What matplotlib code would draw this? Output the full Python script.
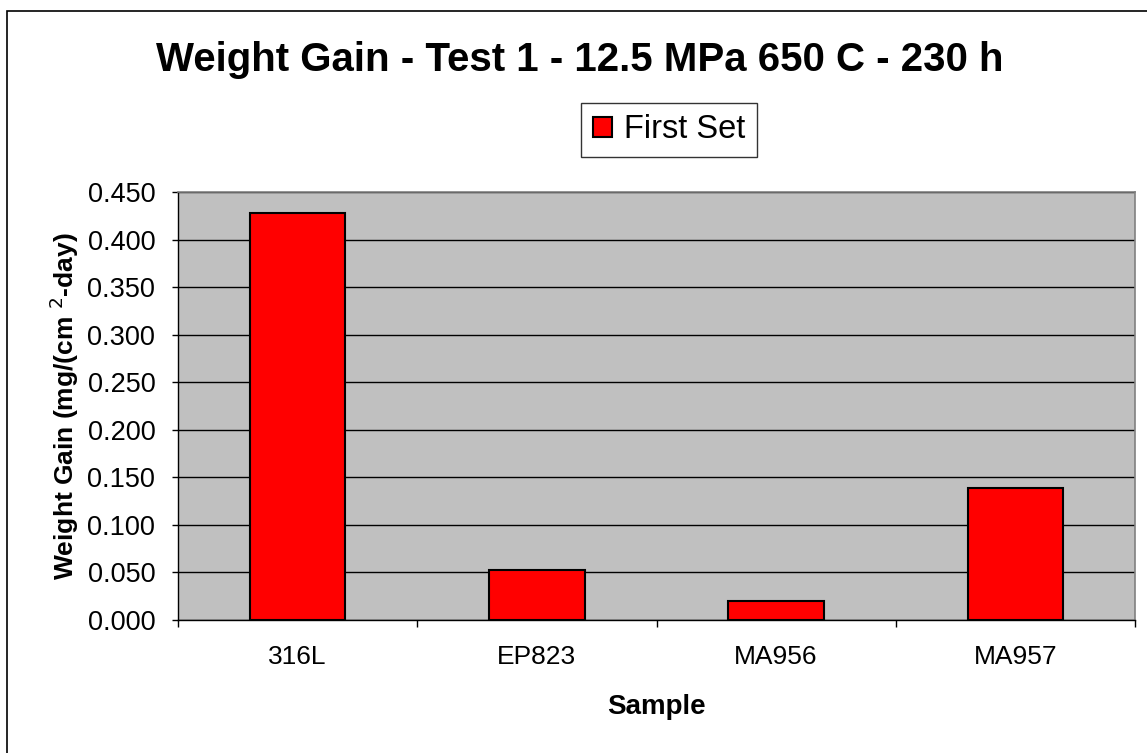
import matplotlib
matplotlib.use('Agg')
import matplotlib.pyplot as plt
from matplotlib.patches import Rectangle
import numpy as np

samples = ['316L', 'EP823', 'MA956', 'MA957']
first_set = [0.428, 0.053, 0.020, 0.139]
y_ticks = [0.000, 0.050, 0.100, 0.150, 0.200, 0.250, 0.300, 0.350, 0.400, 0.450]

plt.rcParams['font.family'] = ['Liberation Sans', 'DejaVu Sans']

W, H = 1147, 753
fig = plt.figure(figsize=(W / 100, H / 100), dpi=100)
fig.patch.set_facecolor('white')

# outer chart border
fig.patches.append(Rectangle((7 / W, -0.02), 1.05, 1 - 11 / H + 0.02,
                             transform=fig.transFigure, fill=False,
                             edgecolor='black', linewidth=1.2, zorder=0))

ax = fig.add_axes([178 / W, 1 - 620 / H, (1135 - 178) / W, (620 - 192) / H])
ax.set_facecolor('#C0C0C0')

x = np.arange(len(samples))
ax.bar(x, first_set, width=0.4, color='#FF0000', edgecolor='black',
       linewidth=1.5, zorder=3, label='First Set')

ax.set_xlim(-0.5, len(samples) - 0.5)
ax.set_ylim(0, 0.45)
ax.set_yticks(y_ticks)
ax.set_yticklabels([f'{v:.3f}' for v in y_ticks])
ax.yaxis.grid(True, color='black', linewidth=1.0, zorder=1)
ax.set_axisbelow(True)

ax.set_xticks(x)
ax.set_xticklabels(samples)
ax.set_xticks(np.arange(len(samples) + 1) - 0.5, minor=True)
ax.tick_params(axis='x', which='major', length=0, pad=18, labelsize=19)
ax.tick_params(axis='x', which='minor', length=5, width=1, color='black')
ax.tick_params(axis='y', length=4.3, width=1, pad=12, labelsize=19.5)

for side in ['top', 'right']:
    ax.spines[side].set_color('#808080')
    ax.spines[side].set_linewidth(1.2)
for side in ['left', 'bottom']:
    ax.spines[side].set_color('black')
    ax.spines[side].set_linewidth(1.0)

ax.set_xlabel('Sample', fontsize=20, fontweight='bold', labelpad=18)
ax.set_ylabel('Weight Gain (mg/(cm $^{2}$-day)', fontsize=19,
              fontweight='bold', labelpad=5)

fig.text(580 / W, 1 - 60 / H, 'Weight Gain - Test 1 - 12.5 MPa 650 C - 230 h',
         ha='center', va='center', fontsize=29, fontweight='bold')

leg = ax.legend(loc='center', bbox_to_anchor=(669 / W, 1 - 130 / H),
                bbox_transform=fig.transFigure, fontsize=23.5, frameon=True,
                fancybox=False, handlelength=0.6, handleheight=0.6,
                handletextpad=0.35, borderpad=0.35)
leg.get_frame().set_edgecolor('black')
leg.get_frame().set_linewidth(1.0)

fig.savefig('out.png', dpi=100)
